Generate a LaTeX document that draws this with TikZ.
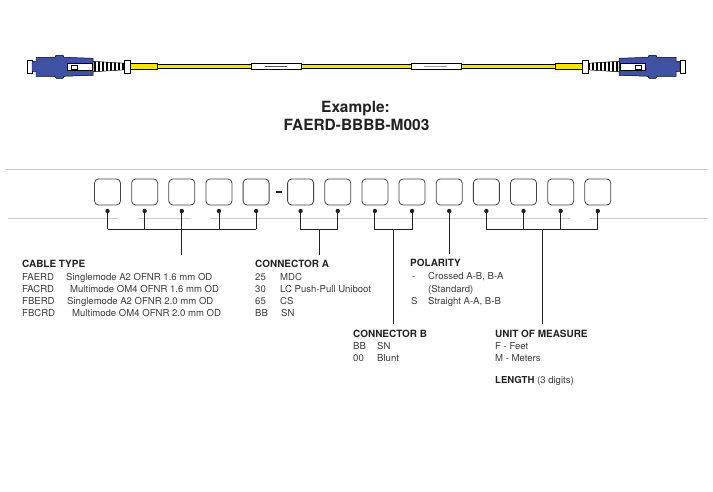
\documentclass[tikz,border=0pt]{standalone}
\usepackage{fontspec}
\setmainfont{TeX Gyre Heros}
\usetikzlibrary{positioning,calc}
\definecolor{ink}{HTML}{222222}
\definecolor{body}{HTML}{3A3A3A}
\definecolor{rule}{HTML}{CCCCCC}
\definecolor{plugblue}{HTML}{3F51A3}
\definecolor{jacket}{HTML}{F3E500}
\tikzset{
  slot/.style={draw=ink!85, line width=0.8pt, rounded corners=4bp, minimum width=26bp, minimum height=26bp, inner sep=0pt, outer sep=0pt},
  dot/.style={circle, fill=ink, inner sep=0pt, minimum size=4.4bp},
  wire/.style={draw=ink, line width=0.9pt},
  sep/.style={draw=rule, line width=0.8pt},
  outl/.style={draw=black, line width=0.5pt},
  head/.style={anchor=base west, font=\bfseries\fontsize{10}{12}\selectfont, text=ink, inner xsep=0pt, inner ysep=5bp},
  txt/.style={anchor=base west, font=\fontsize{9.6}{11}\selectfont, text=body, inner sep=0pt},
  title/.style={anchor=base, font=\bfseries\fontsize{15.5}{18}\selectfont, text=ink},
}
% one connector end, drawn from its tip towards the cable
\newcommand\plugside{%
  \draw[outl, fill=white] (0,-6.5) rectangle (5,6.5);
  \draw[outl, fill=plugblue] (5,-5) -- (9,-5) -- (9,-9) -- (28,-9) -- (29,-11) -- (36,-11) -- (37,-9) -- (66,-8)
    -- (66,9) -- (37,10) -- (36,12) -- (29,12) -- (28,10) -- (9,10) -- (9,5) -- (5,5) -- cycle;
  \draw[outl, fill=white] (40,-3) rectangle (65,4);
  \draw[outl] (44,-1.5) rectangle (50,2.5);
  \begin{scope}
    \clip (66,-5) -- (98,-3) -- (98,3.5) -- (66,5.5) -- cycle;
    \fill[white] (66,-6) rectangle (98,6);
    \foreach \r in {0,...,7}
      \fill[black] (67+\r*4,-6) rectangle ++(2,12);
  \end{scope}
  \draw[outl] (66,-5) -- (98,-3) -- (98,3.5) -- (66,5.5) -- cycle;
  \draw[outl, fill=white] (97,-6.5) rectangle (103,7);
  \draw[outl, fill=jacket] (103,-3) rectangle (130,3);
}

\begin{document}
\begin{tikzpicture}[x=1bp, y=-1bp]
  \useasboundingbox (0,0) rectangle (713,492);

  % cable assembly
  \draw[outl, fill=jacket] (157,64.6) rectangle (555,68);
  \begin{scope}[shift={(27,66.3)}]
    \plugside
  \end{scope}
  \begin{scope}[shift={(685,66.3)}, xscale=-1]
    \plugside
  \end{scope}
  \draw[outl, fill=white] (251,63.3) rectangle (301,69.3);
  \fill[ink!75] (265,65.6) rectangle (287,67);
  \draw[outl, fill=white] (411,63.3) rectangle (461,69.3);
  \fill[ink!45] (424,65.6) rectangle (447,67);

  \node[title] (ex) at (355.5,113) {Example:};
  \node[title] (code) at (356.5,131) {FAERD-BBBB-M003};

  % guide lines
  \draw[sep] (5,169) -- (708,169);
  \draw[sep] (8,218) -- (118,218);
  \draw[sep] (138,218) -- (191,218);
  \draw[sep] (210,218) -- (570,218);
  \draw[sep] (590,218) -- (708,218);

  % part number slots
  \node[slot] (b1) at (107.5,192) {};
  \node[slot, right=11.15bp of b1] (b2) {};
  \node[slot, right=11.15bp of b2] (b3) {};
  \node[slot, right=11.15bp of b3] (b4) {};
  \node[slot, right=11.15bp of b4] (b5) {};
  \node[slot, right=18.5bp of b5] (b6) {};
  \node[slot, right=11.15bp of b6] (b7) {};
  \node[slot, right=11.15bp of b7] (b8) {};
  \node[slot, right=11.15bp of b8] (b9) {};
  \node[slot, right=11.15bp of b9] (b10) {};
  \node[slot, right=11.15bp of b10] (b11) {};
  \node[slot, right=11.15bp of b11] (b12) {};
  \node[slot, right=11.15bp of b12] (b13) {};
  \node[slot, right=11.15bp of b13] (b14) {};
  \draw[ink, line width=2.4bp] ($(b5.east)!0.35!(b6.west)$) -- ($(b5.east)!0.72!(b6.west)$);

  \foreach \i in {1,...,14}
    \node[dot] (d\i) at ([yshift=-6bp]b\i.south) {};
  \coordinate (bar) at (0,229);

  % legend blocks
  \node[head] (cabT) at (22,268) {CABLE TYPE};
  \node[txt] (cab1) at (22,281) {FAERD};
  \node[txt] (cab1d) at (66,281) {Singlemode A2 OFNR 1.6 mm OD};
  \node[txt] (cab2) at (22,292.7) {FACRD};
  \node[txt] (cab2d) at (70,292.7) {Multimode OM4 OFNR 1.6 mm OD};
  \node[txt] (cab3) at (22,304.5) {FBERD};
  \node[txt] (cab3d) at (67,304.5) {Singlemode A2 OFNR 2.0 mm OD};
  \node[txt] (cab4) at (22,316.2) {FBCRD};
  \node[txt] (cab4d) at (72,316.2) {Multimode OM4 OFNR 2.0 mm OD};

  \node[head] (conAT) at (255,268) {CONNECTOR A};
  \node[txt] (conA1) at (255,281) {25};
  \node[txt] (conA1d) at (280,281) {MDC};
  \node[txt] (conA2) at (255,292.7) {30};
  \node[txt] (conA2d) at (280,292.7) {LC Push-Pull Uniboot};
  \node[txt] (conA3) at (255,304.5) {65};
  \node[txt] (conA3d) at (280,304.5) {CS};
  \node[txt] (conA4) at (255,316.2) {BB};
  \node[txt] (conA4d) at (281,316.2) {SN};

  \node[head] (polT) at (410,267) {POLARITY};
  \node[txt] (pol1) at (412,280) {-};
  \node[txt] (pol1d) at (428,280) {Crossed A-B, B-A};
  \node[txt] (pol1e) at (428,292) {(Standard)};
  \node[txt] (pol2) at (411,304.5) {S};
  \node[txt] (pol2d) at (428,304.5) {Straight A-A, B-B};

  \node[head] (conBT) at (353,337) {CONNECTOR B};
  \node[txt] (conB1) at (353,349.5) {BB};
  \node[txt] (conB1d) at (377,349.5) {SN};
  \node[txt] (conB2) at (353,361.5) {00};
  \node[txt] (conB2d) at (377,361.5) {Blunt};

  \node[head] (unitT) at (495,337) {UNIT OF MEASURE};
  \node[txt] (unit1) at (495,349.5) {F - Feet};
  \node[txt] (unit2) at (495,361.5) {M - Meters};
  \node[txt] (lenT) at (495,383.5) {\textbf{\color{ink}LENGTH} (3 digits)};

  % brackets
  \foreach \i in {1,2,4,5}
    \draw[wire] (d\i) -- (d\i |- bar);
  \draw[wire] (d1 |- bar) -- (d5 |- bar);
  \draw[wire] (d3) -- (d3 |- cabT.north);

  \draw[wire] (d6) -- (d6 |- bar) -- (d7 |- bar) -- (d7);
  \coordinate (midA) at ($(d6 |- bar)!0.5!(d7 |- bar)$);
  \draw[wire] (midA) -- (midA |- conAT.north);

  \draw[wire] (d8) -- (d8 |- bar) -- (d9 |- bar) -- (d9);
  \coordinate (midB) at ($(d8 |- bar)!0.5!(d9 |- bar)$);
  \draw[wire] (midB) -- (midB |- conBT.north);

  \draw[wire] (d10) -- (d10 |- polT.north);

  \foreach \i in {11,...,14}
    \draw[wire] (d\i) -- (d\i |- bar);
  \draw[wire] (d11 |- bar) -- (d14 |- bar);
  \coordinate (midU) at ($(d11 |- bar)!0.5!(d14 |- bar)$);
  \draw[wire] (midU) -- (midU |- unitT.north);
\end{tikzpicture}
\end{document}
